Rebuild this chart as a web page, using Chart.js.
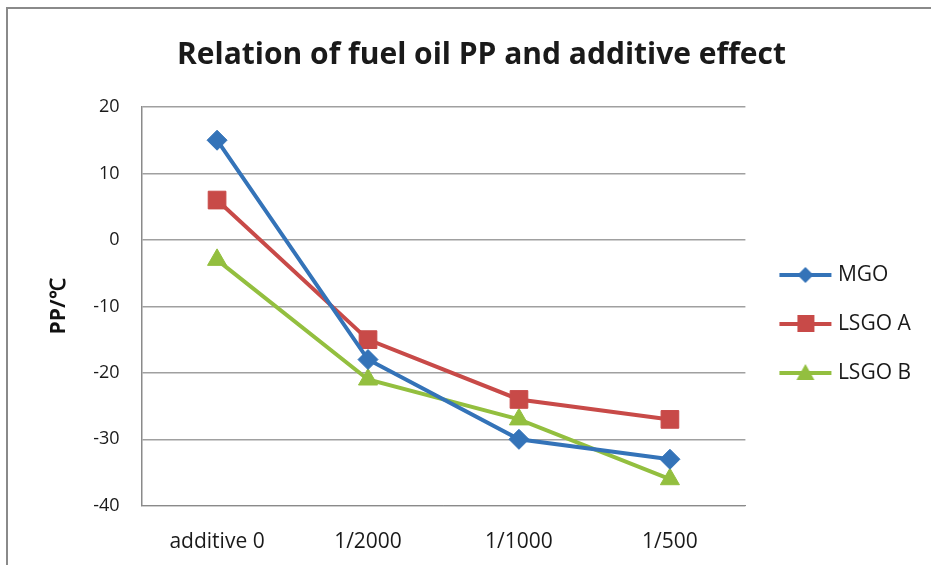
<!DOCTYPE html>
<html>
<head>
<meta charset="utf-8">
<script src="https://cdn.jsdelivr.net/npm/chart.js@4"></script>
<style>
  body { margin: 0; background: #fff; overflow: hidden; }
  .frame { position: absolute; left: 6px; top: 7px; width: 960px; height: 600px; border: 2px solid #8a8a8a; }
  .box { position: absolute; left: 0; top: 0; width: 923px; height: 566px; }
</style>
</head>
<body>
<div class="frame">
  <div class="box"><canvas id="chart"></canvas></div>
</div>
<script>
const categories = ['additive 0', '1/2000', '1/1000', '1/500']
const mgo = [15, -18, -30, -33]
const lsgoA = [6, -15, -24, -27]
const lsgoB = [-3, -21, -27, -36]
const yTicks = [20, 10, 0, -10, -20, -30, -40]

const font = "'Open Sans', Lato, sans-serif"

// legend symbol: short line with the marker on top (blank strip on the left)
function legendIcon(color, style) {
    const c = document.createElement('canvas')
    c.width = 64
    c.height = 24
    const g = c.getContext('2d')
    g.strokeStyle = color
    g.lineWidth = 4
    g.beginPath()
    g.moveTo(11, 12)
    g.lineTo(63, 12)
    g.stroke()
    g.fillStyle = color
    g.beginPath()
    if (style === 'rectRot') {
        g.moveTo(37, 4); g.lineTo(45, 12); g.lineTo(37, 20); g.lineTo(29, 12)
    } else if (style === 'rect') {
        g.rect(29, 3, 17, 17)
    } else {
        g.moveTo(37, 3); g.lineTo(46, 19); g.lineTo(28, 19)
    }
    g.closePath()
    g.fill()
    return c
}

const series = [
    { label: 'MGO', data: mgo, color: '#3473b8', style: 'rectRot', r: 10 },
    { label: 'LSGO A', data: lsgoA, color: '#c84a48', style: 'rect', r: 12.5 },
    { label: 'LSGO B', data: lsgoB, color: '#93bf3f', style: 'triangle', r: 11 }
]

const chart = document.querySelector('#chart').getContext('2d')

new Chart(chart, {
    type: 'line',
    data: {
        labels: categories,
        datasets: series.map(s => ({
            label: s.label,
            data: s.data,
            borderColor: s.color,
            backgroundColor: s.color,
            borderWidth: 4,
            pointStyle: s.style,
            pointRadius: s.r,
            pointHoverRadius: s.r,
            pointBorderWidth: 1,
            tension: 0
        }))
    },
    options: {
        responsive: true,
        maintainAspectRatio: false,
        animation: false,
        layout: { padding: { left: 34, right: 10, top: 28, bottom: 4 } },
        plugins: {
            title: {
                display: true,
                text: 'Relation of fuel oil PP and additive effect',
                color: '#1a1a1a',
                font: { family: font, size: 30, weight: 'bold' },
                padding: { top: 0, bottom: 34 }
            },
            legend: {
                position: 'right',
                align: 'center',
                title: { display: true, text: ' ', font: { size: 10 }, padding: 14 },
                labels: {
                    usePointStyle: true,
                    pointStyleWidth: 54,
                    padding: 28,
                    color: '#1a1a1a',
                    font: { family: font, size: 21 },
                    generateLabels: (c) => series.map((s, i) => ({
                        text: s.label,
                        pointStyle: legendIcon(s.color, s.style),
                        fillStyle: s.color,
                        strokeStyle: s.color,
                        lineWidth: 0,
                        datasetIndex: i,
                        fontColor: '#1a1a1a'
                    }))
                }
            },
            tooltip: { enabled: false }
        },
        scales: {
            x: {
                offset: true,
                grid: { display: false },
                border: { color: '#8a8a8a', width: 1 },
                ticks: { color: '#1a1a1a', font: { family: font, size: 21 }, padding: 16 }
            },
            y: {
                min: -40,
                max: 20,
                afterBuildTicks: (axis) => { axis.ticks = yTicks.map(v => ({ value: v })) },
                grid: { color: '#a0a0a0', lineWidth: 1.5, drawTicks: false },
                border: { color: '#8a8a8a', width: 1.5 },
                ticks: { color: '#1a1a1a', font: { family: font, size: 18 }, padding: 22 },
                title: {
                    display: true,
                    text: 'PP/℃',
                    color: '#111',
                    font: { family: font, size: 21, weight: 'bold' },
                    padding: { bottom: 0 }
                }
            }
        }
    }
})
</script>
</body>
</html>
